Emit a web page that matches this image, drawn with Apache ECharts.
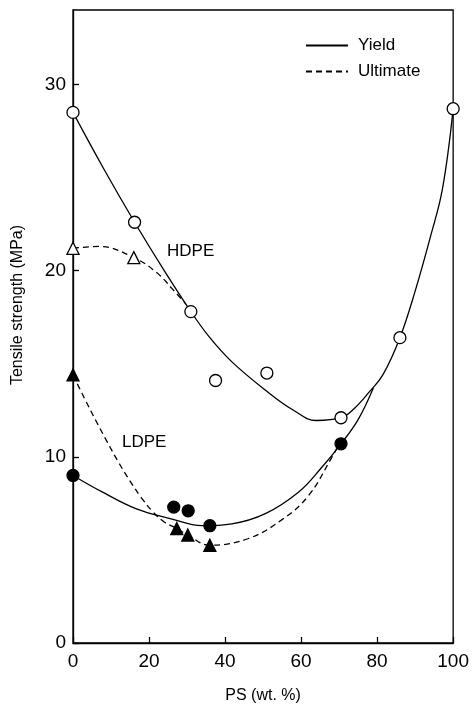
<!DOCTYPE html>
<html>
<head>
<meta charset="utf-8">
<script src="https://cdn.jsdelivr.net/npm/echarts@6/dist/echarts.min.js"></script>
<style>
html,body{margin:0;padding:0;background:#fff;}
#c{width:472px;height:709px;}
</style>
</head>
<body>
<div id="c"></div>
<script>
// Measured data points [PS wt.%, tensile strength MPa]
const hdpeYieldPts = [[0,28.5],[16.2,22.6],[31,17.8],[37.5,14.1],[51,14.5],[70.5,12.1],[86,16.4],[100,28.7]];
const hdpeUltPts   = [[0,21.2],[16,20.7]];
const ldpeYieldPts = [[0,9.0],[26.5,7.3],[30.3,7.1],[36,6.3],[70.5,10.7]];
const ldpeUltPts   = [[0,14.4],[27.3,6.15],[30.2,5.8],[36,5.25]];

// Curves
const hdpeYieldCurve = [[0,28.5],[8,25.5],[16.2,22.6],[24,20.0],[31,17.8],[36,16.4],[41.8,15.1],[50.5,13.6],[58,12.5],[64,11.95],[70.5,12.1],[74,12.6],[78,13.5],[81.5,14.4],[86,16.4],[90,18.9],[94,21.8],[97.2,24.4],[100,28.7]];
const hdpeUltCurve   = [[0,21.2],[7,21.3],[16,20.7],[22,19.9],[26,19.05],[29.7,18.2]];
const ldpeYieldCurve = [[0,9.0],[7.8,8.1],[16.7,7.2],[25.3,6.7],[34,6.3],[41.8,6.4],[50.6,6.95],[59.3,8.1],[65.3,9.4],[70.5,10.7],[75,12.0],[79,13.7]];
const ldpeUltCurve   = [[0,14.4],[3,13.15],[6,11.95],[9,10.8],[12,9.7],[15,8.7],[18,7.8],[21,7.05],[24,6.5],[27.3,6.15],[30.2,5.8],[36,5.25],[46,5.6],[54.8,6.6],[61.9,7.9],[67.9,9.9],[69.5,10.5]];

const xTicks = [0,20,40,60,80,100];
const yTicks = [0,10,20,30];

const FONT = 'Liberation Sans, Arial, sans-serif';
const chart = echarts.init(document.getElementById('c'), null, {renderer:'canvas'});

function curve(name, data, dashed){
  return {name:name, type:'line', data:data, smooth:0.4, symbol:'none', z:2,
    itemStyle:{color:'#000'},
    lineStyle:{color:'#000', width:1.3, type: dashed ? [6,4] : 'solid'}, silent:true};
}
function pts(name, data, symbol, filled){
  return {name:name, type:'scatter', data:data, symbol:symbol, symbolSize:12, z:5,
    itemStyle:{color: filled?'#000':'#fff', borderColor:'#000', borderWidth:1.3, opacity:1}};
}

chart.setOption({
  animation:false,
  backgroundColor:'#fff',
  grid:{left:73, right:16, top:10, bottom:64, show:true, borderColor:'#000', borderWidth:1.3, backgroundColor:'transparent'},
  legend:{
    left:305, top:37, padding:0, orient:'vertical', itemWidth:42, itemHeight:14, itemGap:9,
    data:[{name:'Yield'},{name:'Ultimate'}],
    itemStyle:{opacity:0},
    textStyle:{fontFamily:FONT, fontSize:17, color:'#000', padding:[0,0,0,5]},
    selectedMode:false
  },
  xAxis:{
    type:'value', min:0, max:100, interval:20,
    name:'PS (wt. %)', nameLocation:'middle', nameGap:45,
    nameTextStyle:{fontFamily:FONT, fontSize:16, color:'#000'},
    axisLine:{show:true, lineStyle:{color:'#000', width:1.3}},
    axisTick:{show:true, inside:true, length:6, lineStyle:{color:'#000', width:1.3}},
    axisLabel:{fontFamily:FONT, fontSize:19, color:'#000', margin:9,
      formatter:v=> xTicks.indexOf(v)>=0 ? String(v) : ''},
    splitLine:{show:false}
  },
  yAxis:{
    type:'value', min:0, max:34, interval:10,
    axisLine:{show:true, lineStyle:{color:'#000', width:1.3}},
    axisTick:{show:true, inside:true, length:6, lineStyle:{color:'#000', width:1.3}},
    axisLabel:{fontFamily:FONT, fontSize:19, color:'#000', margin:7, showMaxLabel:false,
      formatter:v=> yTicks.indexOf(v)>=0 ? String(v) : ''},
    splitLine:{show:false}
  },
  graphic:[
    {type:'text', left:167, top:243, style:{text:'HDPE', font:'17px '+FONT, fill:'#000'}},
    {type:'text', left:122, top:434, style:{text:'LDPE', font:'17px '+FONT, fill:'#000'}},
    {type:'text', x:18, y:305, rotation:Math.PI/2,
      style:{text:'Tensile strength (MPa)', font:'16px '+FONT, fill:'#000', align:'center', verticalAlign:'middle'}}
  ],
  series:[
    curve('Yield', hdpeYieldCurve, false),
    curve('Ultimate', hdpeUltCurve, true),
    curve('Yield', ldpeYieldCurve, false),
    curve('Ultimate', ldpeUltCurve, true),
    pts('HDPE yield', hdpeYieldPts, 'circle', false),
    pts('HDPE ultimate', hdpeUltPts, 'triangle', false),
    pts('LDPE yield', ldpeYieldPts, 'circle', true),
    pts('LDPE ultimate', ldpeUltPts, 'triangle', true)
  ]
});
</script>
</body>
</html>
